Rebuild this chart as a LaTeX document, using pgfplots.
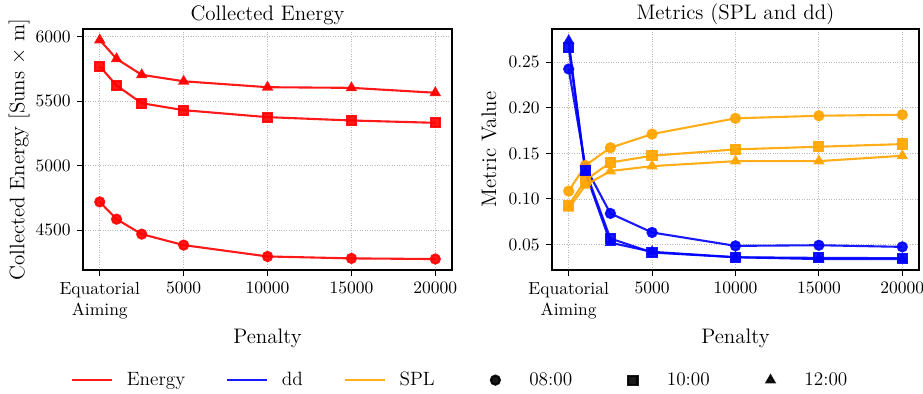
\documentclass[border=0pt]{standalone}
\usepackage{pgfplots}
\pgfplotsset{compat=1.18}
\definecolor{cOrange}{RGB}{255,165,0}
\pgfplotsset{
  lineleg/.style={legend image code/.code={\draw[##1] (0cm,0cm) -- (0.8cm,0cm);}},
  markleg/.style={legend image code/.code={\path[draw=none,fill=none] (0cm,0cm) -- (0.8cm,0cm); \draw[##1] plot coordinates {(0.4cm,0cm)};}},
  common/.style={
    scale only axis,
    height=137.7pt,
    xmin=-1000, xmax=21000,
    xtick={0,5000,10000,15000,20000},
    xticklabels={{Equatorial\\Aiming},5000,10000,15000,20000},
    xticklabel style={align=center, font=\normalsize},
    scaled x ticks=false,
    /pgf/number format/set thousands separator={},
    grid=major,
    grid style={densely dotted, gray!55, line width=0.5pt},
    tick align=outside,
    tick pos=left,
    major tick length=3.5pt,
    every tick/.style={black, line width=0.6pt},
    axis line style={line width=0.8pt},
    xlabel={Penalty},
    xlabel style={yshift=1.5pt},
    label style={font=\large},
    title style={font=\large, yshift=-7pt},
    every axis plot/.append style={line width=1.2pt, mark size=2.6pt, opacity=0.9},
  }
}
\begin{document}
\begin{tikzpicture}
\path[use as bounding box] (-47.43pt,-70.29pt) rectangle (480pt,154.29pt);
\begin{axis}[common, name=left, at={(0,0)}, anchor=south west,
  width=210.9pt,
  ymin=4191, ymax=6059,
  ytick={4500,5000,5500,6000},
  ylabel={Collected Energy [Suns $\times$ m]},
  ylabel shift=-3.4pt,
  title={Collected Energy},
  legend columns=6,
  legend style={at={(1.024,-0.457)}, anchor=center, draw=none, font=\fontsize{11}{13}\selectfont,
    /tikz/every even column/.append style={column sep=21.3pt},
    /tikz/every odd column/.append style={column sep=6pt}},
]
\addplot[red, mark=*, forget plot] coordinates {(0,4719) (1000,4585) (2500,4469) (5000,4384) (10000,4296) (15000,4281) (20000,4276)};
\addplot[red, mark=square*, forget plot] coordinates {(0,5770) (1000,5621) (2500,5484) (5000,5430) (10000,5376) (15000,5350) (20000,5332)};
\addplot[red, mark=triangle*, forget plot] coordinates {(0,5974) (1000,5828) (2500,5704) (5000,5654) (10000,5608) (15000,5603) (20000,5565)};
\addlegendimage{red, line width=1.2pt, lineleg}
\addlegendentry{Energy}
\addlegendimage{blue, line width=1.2pt, lineleg}
\addlegendentry{dd}
\addlegendimage{cOrange, line width=1.2pt, lineleg}
\addlegendentry{SPL}
\addlegendimage{black, only marks, mark=*, mark size=2.6pt, markleg}
\addlegendentry{08:00}
\addlegendimage{black, only marks, mark=square*, mark size=2.6pt, markleg}
\addlegendentry{10:00}
\addlegendimage{black, only marks, mark=triangle*, mark size=2.6pt, markleg}
\addlegendentry{12:00}
\end{axis}
\begin{axis}[common, name=right, at={(268pt,0)}, anchor=south west,
  width=209.7pt,
  ymin=0.022, ymax=0.2865,
  ytick={0.05,0.10,0.15,0.20,0.25},
  yticklabel style={/pgf/number format/fixed, /pgf/number format/fixed zerofill, /pgf/number format/precision=2},
  ylabel={Metric Value},
  title={Metrics (SPL and dd)},
]
\addplot[blue, mark=*] coordinates {(0,0.2426) (1000,0.1355) (2500,0.0841) (5000,0.0632) (10000,0.0485) (15000,0.0492) (20000,0.0474)};
\addplot[cOrange, mark=*] coordinates {(0,0.1086) (1000,0.1368) (2500,0.1562) (5000,0.1712) (10000,0.1885) (15000,0.1913) (20000,0.1924)};
\addplot[blue, mark=square*] coordinates {(0,0.2665) (1000,0.1310) (2500,0.0566) (5000,0.0412) (10000,0.0360) (15000,0.0353) (20000,0.0350)};
\addplot[cOrange, mark=square*] coordinates {(0,0.0932) (1000,0.1205) (2500,0.1400) (5000,0.1474) (10000,0.1544) (15000,0.1573) (20000,0.1602)};
\addplot[blue, mark=triangle*] coordinates {(0,0.2737) (1000,0.1290) (2500,0.0520) (5000,0.0420) (10000,0.0360) (15000,0.0340) (20000,0.0340)};
\addplot[cOrange, mark=triangle*] coordinates {(0,0.0896) (1000,0.1150) (2500,0.1306) (5000,0.1360) (10000,0.1415) (15000,0.1415) (20000,0.1474)};
\end{axis}
\end{tikzpicture}
\end{document}
